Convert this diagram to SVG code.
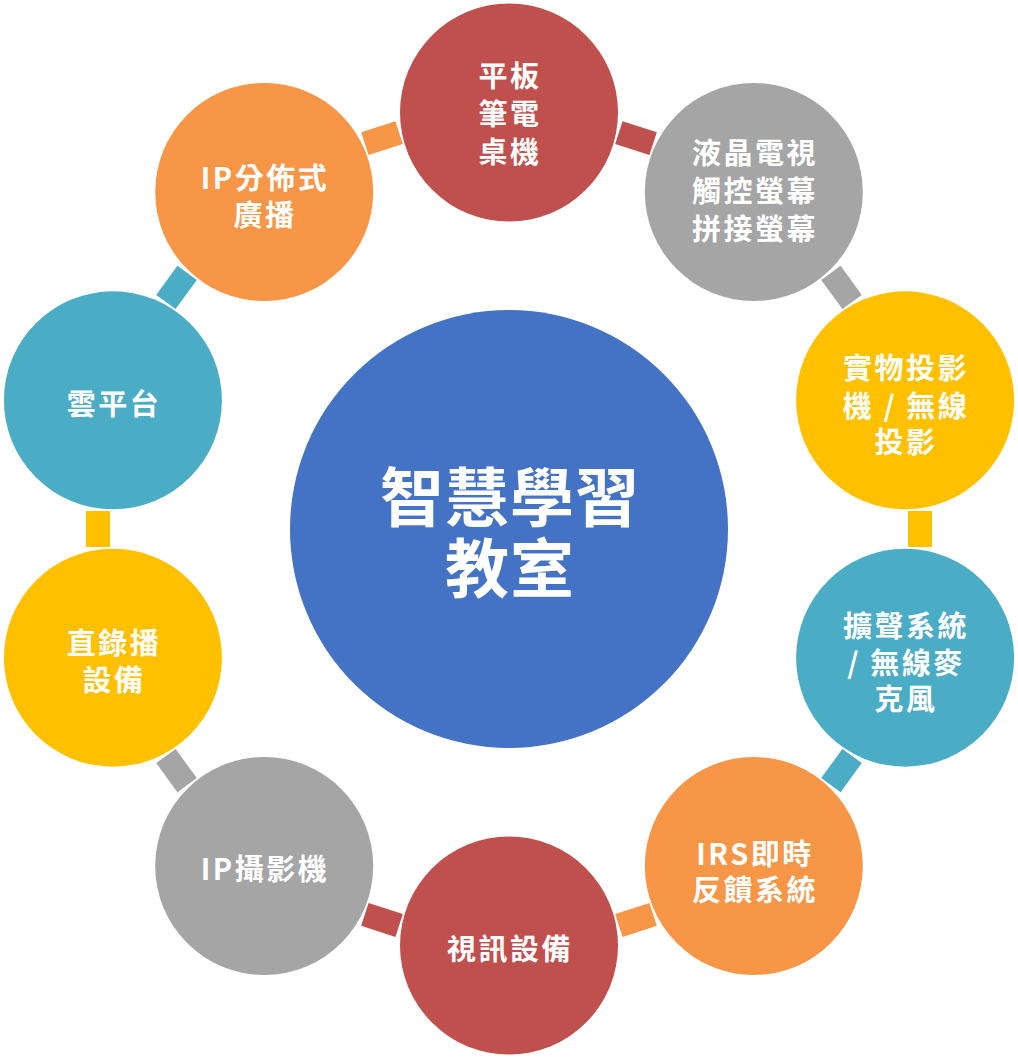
<svg xmlns="http://www.w3.org/2000/svg" width="1018" height="1059" viewBox="0 0 1018 1059">
<style>
.t{font-family:"Noto Sans CJK TC","Noto Sans CJK SC",sans-serif;font-weight:bold;fill:#FFFFFF;font-size:29px;letter-spacing:2.5px;text-anchor:middle;dominant-baseline:central}
.tc{font-family:"Noto Sans CJK TC","Noto Sans CJK SC",sans-serif;font-weight:bold;fill:#FFFFFF;font-size:64px;letter-spacing:1px;text-anchor:middle;dominant-baseline:central}
.red{fill:#C0504D}.gray{fill:#A5A5A5}.yel{fill:#FFC000}.teal{fill:#4BACC6}.org{fill:#F79646}.blue{fill:#4472C4}
</style>
<defs>
<rect id="bar" x="-18" y="-12" width="36" height="24"/>
</defs>
<rect width="1018" height="1059" fill="#FFFFFF"/>
<g id="connectors">
<use href="#bar" class="red" transform="translate(636,138.1) rotate(18)"/>
<use href="#bar" class="gray" transform="translate(841.5,287.4) rotate(54)"/>
<use href="#bar" class="yel" transform="translate(920,529) rotate(90)"/>
<use href="#bar" class="teal" transform="translate(841.5,770.6) rotate(126)"/>
<use href="#bar" class="org" transform="translate(636,919.9) rotate(162)"/>
<use href="#bar" class="red" transform="translate(382,919.9) rotate(198)"/>
<use href="#bar" class="gray" transform="translate(176.5,770.6) rotate(234)"/>
<use href="#bar" class="yel" transform="translate(98,529) rotate(270)"/>
<use href="#bar" class="teal" transform="translate(176.5,287.4) rotate(306)"/>
<use href="#bar" class="org" transform="translate(382,138.1) rotate(342)"/>
</g>
<g id="center">
<circle cx="509" cy="529" r="219" class="blue"/>
<text class="tc" x="510" y="493">智慧學習</text>
<text class="tc" x="510" y="564">教室</text>
</g>
<g id="n1">
<circle cx="509" cy="112.5" r="109" class="red"/>
<text class="t" x="510" y="74">平板</text>
<text class="t" x="510" y="112">筆電</text>
<text class="t" x="510" y="150">桌機</text>
</g>
<g id="n2">
<circle cx="753.8" cy="192" r="109" class="gray"/>
<text class="t" x="755" y="151">液晶電視</text>
<text class="t" x="755" y="189">觸控螢幕</text>
<text class="t" x="755" y="227">拼接螢幕</text>
</g>
<g id="n3">
<circle cx="905.1" cy="400.3" r="109" class="yel"/>
<text class="t" x="906" y="366">實物投影</text>
<text class="t" x="906" y="404">機 / 無線</text>
<text class="t" x="906" y="440">投影</text>
</g>
<g id="n4">
<circle cx="905.1" cy="657.7" r="109" class="teal"/>
<text class="t" x="906" y="624">擴聲系統</text>
<text class="t" x="906" y="661">/ 無線麥</text>
<text class="t" x="906" y="697">克風</text>
</g>
<g id="n5">
<circle cx="753.8" cy="866" r="109" class="org"/>
<text class="t" x="755" y="852">IRS即時</text>
<text class="t" x="755" y="888">反饋系統</text>
</g>
<g id="n6">
<circle cx="509" cy="945.5" r="109" class="red"/>
<text class="t" x="510" y="947">視訊設備</text>
</g>
<g id="n7">
<circle cx="264.2" cy="866" r="109" class="gray"/>
<text class="t" x="265" y="867">IP攝影機</text>
</g>
<g id="n8">
<circle cx="112.9" cy="657.7" r="109" class="yel"/>
<text class="t" x="114" y="641">直錄播</text>
<text class="t" x="114" y="678">設備</text>
</g>
<g id="n9">
<circle cx="112.9" cy="400.3" r="109" class="teal"/>
<text class="t" x="114" y="402">雲平台</text>
</g>
<g id="n10">
<circle cx="264.2" cy="192" r="109" class="org"/>
<text class="t" x="265" y="176">IP分佈式</text>
<text class="t" x="265" y="213">廣播</text>
</g>
</svg>
